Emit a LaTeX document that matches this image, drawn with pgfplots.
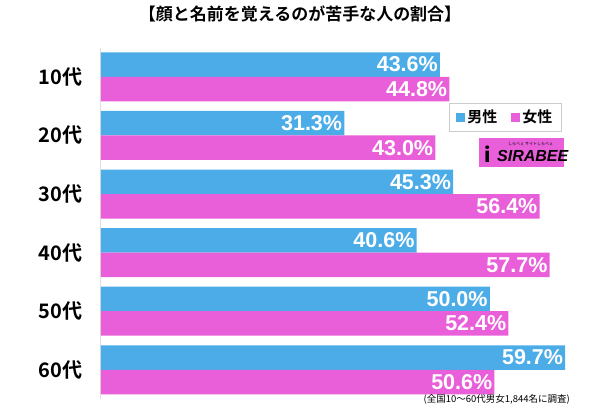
\documentclass[border=0pt]{standalone}
\usepackage{pgfplots}
\pgfplotsset{compat=1.18}
\usepackage{fontspec}
\setmainfont{Noto Sans CJK JP}[BoldFont={Noto Sans CJK JP Bold}]
\newfontfamily\numfont{Liberation Sans}
\definecolor{mblue}{HTML}{4BACE8}
\definecolor{fpink}{HTML}{E95FDA}
\begin{document}
\begin{tikzpicture}[x=1pt,y=1pt]
\path[use as bounding box] (0,0) rectangle (600,406);
\begin{axis}[
  at={(129.5,11.7)}, anchor=south west,
  scale only axis, width=466.8pt, height=351.6pt,
  xbar, bar width=24.5pt,
  xmin=0, xmax=60, ymin=-0.5, ymax=5.5,
  hide x axis,
  axis y line*=left,
  y axis line style={draw=gray!25, line width=0.6pt, -},
  ytick={0,1,2,3,4,5},
  yticklabels={60代,50代,40代,30代,20代,10代},
  major tick length=0pt,
  yticklabel style={font=\bfseries\fontsize{20}{20}\selectfont, xshift=-15pt},
  /pgf/number format/assume math mode=true,
  nodes near coords={\pgfmathprintnumber[fixed,precision=1,zerofill,assume math mode=true]{\pgfplotspointmeta}\%},
  every node near coord/.append style={anchor=east, xshift=-2pt, text=white, font=\numfont\bfseries\fontsize{21.5}{21.5}\selectfont, inner xsep=0pt, inner ysep=0pt},
  legend style={at={(0.987,0.843)}, anchor=north east, draw=gray!40, font=\bfseries\fontsize{15}{15}\selectfont, legend columns=2, inner xsep=7pt, inner ysep=5pt, /tikz/every even column/.append style={column sep=12pt}},
  legend image code/.code={\fill[#1] (0pt,-4.5pt) rectangle (9pt,4.5pt);},
]
\addplot[draw=none, fill=mblue, bar shift=12.25pt] coordinates {(59.7,0) (50.0,1) (40.6,2) (45.3,3) (31.3,4) (43.6,5)};
\addlegendentry{男性}
\addplot[draw=none, fill=fpink, bar shift=-12.25pt] coordinates {(50.6,0) (52.4,1) (57.7,2) (56.4,3) (43.0,4) (44.8,5)};
\addlegendentry{女性}
\end{axis}
\node[font=\bfseries\fontsize{17}{17}\selectfont] at (300,392) {【顔と名前を覚えるのが苦手な人の割合】};
\fill[fpink] (479,239) rectangle (564,268);
\node[font=\numfont\bfseries\itshape\fontsize{16}{16}\selectfont, anchor=west, inner sep=0pt] at (497,250) {SIRABEE};
\node[font=\bfseries\itshape\fontsize{20}{20}\selectfont, anchor=west, inner sep=0pt] at (484,252) {i};
\node[font=\fontsize{4}{4}\selectfont, anchor=west, inner sep=0pt] at (508,262) {しらべぇ サイトしらべぇ};
\node[font=\fontsize{9.5}{9.5}\selectfont, anchor=east, inner sep=0pt] at (570,7) {(全国10～60代男女1,844名に調査)};
\end{tikzpicture}
\end{document}
